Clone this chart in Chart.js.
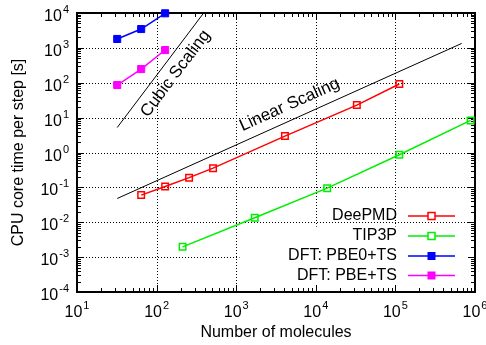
<!DOCTYPE html>
<html>
<head>
<meta charset="utf-8">
<script src="https://cdn.jsdelivr.net/npm/chart.js@4.4.0/dist/chart.umd.min.js"></script>
<style>
  html, body { margin: 0; padding: 0; background: #fff; }
  #chart { display: block; }
</style>
</head>
<body>
<canvas id="chart" width="486" height="345"></canvas>
<script>
// values (molecules, seconds per step)
const deepmdN = [64, 128, 256, 512, 4096, 32768, 112000];
const deepmdT = [0.060, 0.106, 0.19, 0.356, 2.96, 22.9, 92];
const tip3pN = [212, 1710, 13900, 112000, 880000];
const tip3pT = [0.00197, 0.0134, 0.095, 0.86, 8.3];
const pbe0N = [32, 64, 128];
const pbe0T = [1800, 3470, 9800];
const pbeN = [32, 64, 128];
const pbeT = [86, 247, 867];

// guide lines
const cubicN = [32, 390];
const cubicT = [5.2, 10000];
const linearN = [32, 680000];
const linearT = [0.048, 1340];

const xExp = [1, 2, 3, 4, 5, 6];
const yExp = [-4, -3, -2, -1, 0, 1, 2, 3, 4];

const seriesNames = ['DeePMD', 'TIP3P', 'DFT: PBE0+TS', 'DFT: PBE+TS'];
const seriesColors = ['#ff0000', '#00ee00', '#0000ff', '#ff00ff'];

const FONT = '"Liberation Sans", Arial, sans-serif';

function pts(xs, ys) {
  return xs.map((x, i) => ({ x: x, y: ys[i] }));
}

function series(i, xs, ys, filled) {
  return {
    label: seriesNames[i],
    data: pts(xs, ys),
    showLine: true,
    borderColor: seriesColors[i],
    backgroundColor: filled ? seriesColors[i] : '#ffffff',
    pointBorderColor: seriesColors[i],
    pointBackgroundColor: filled ? seriesColors[i] : 'rgba(0,0,0,0)',
    pointStyle: 'rect',
    pointRadius: filled ? 5 : 4.6,
    pointBorderWidth: filled ? 1 : 1.5,
    borderWidth: 1.5,
    clip: false
  };
}

function guide(xs, ys) {
  return {
    label: '',
    data: pts(xs, ys),
    showLine: true,
    borderColor: '#000',
    borderWidth: 1,
    pointRadius: 0,
    clip: false
  };
}

// draws the label "10^e" with a raised exponent
function powerLabel(ctx, x, y, e, align) {
  ctx.font = '16px ' + FONT;
  const baseW = ctx.measureText('10').width;
  ctx.font = '11px ' + FONT;
  const expW = ctx.measureText(String(e)).width;
  let left;
  if (align === 'right') left = x - baseW - expW - 1;
  else left = x - (baseW + expW + 1) / 2;
  ctx.textAlign = 'left';
  ctx.textBaseline = 'alphabetic';
  ctx.fillStyle = '#000';
  ctx.font = '16px ' + FONT;
  ctx.fillText('10', left, y);
  ctx.font = '11px ' + FONT;
  ctx.fillText(String(e), left + baseW + 1, y - 8);
}

const framePlugin = {
  id: 'frame',
  beforeDatasetsDraw(chart) {
    const ctx = chart.ctx;
    const a = chart.chartArea;
    const xs = chart.scales.x, ys = chart.scales.y;
    ctx.save();

    // dotted grid at decades
    ctx.strokeStyle = '#000';
    ctx.lineWidth = 1;
    ctx.setLineDash([1, 2]);
    xExp.forEach(e => {
      const px = Math.round(xs.getPixelForValue(Math.pow(10, e))) + 0.5;
      ctx.beginPath(); ctx.moveTo(px, a.top); ctx.lineTo(px, a.bottom); ctx.stroke();
    });
    yExp.forEach(e => {
      const py = Math.round(ys.getPixelForValue(Math.pow(10, e))) + 0.5;
      ctx.beginPath(); ctx.moveTo(a.left, py); ctx.lineTo(a.right, py); ctx.stroke();
    });
    ctx.setLineDash([]);

    // white box behind the key
    const kx = xs.getPixelForValue(1100);
    const ky = ys.getPixelForValue(0.0075);
    ctx.fillStyle = '#fff';
    ctx.fillRect(kx, ky, a.right - kx - 1, a.bottom - ky - 4);

    // inward tick marks on all four sides
    ctx.lineWidth = 1;
    for (let e = xExp[0]; e <= xExp[xExp.length - 1]; e++) {
      for (let m = 1; m <= 9; m++) {
        const v = m * Math.pow(10, e);
        if (v > Math.pow(10, xExp[xExp.length - 1])) break;
        const px = Math.round(xs.getPixelForValue(v)) + 0.5;
        const len = m === 1 ? 7 : 4;
        ctx.beginPath();
        ctx.moveTo(px, a.bottom); ctx.lineTo(px, a.bottom - len);
        ctx.moveTo(px, a.top); ctx.lineTo(px, a.top + len);
        ctx.stroke();
      }
    }
    for (let e = yExp[0]; e <= yExp[yExp.length - 1]; e++) {
      for (let m = 1; m <= 9; m++) {
        const v = m * Math.pow(10, e);
        if (v > Math.pow(10, yExp[yExp.length - 1])) break;
        const py = Math.round(ys.getPixelForValue(v)) + 0.5;
        const len = m === 1 ? 7 : 4;
        ctx.beginPath();
        ctx.moveTo(a.left, py); ctx.lineTo(a.left + len, py);
        ctx.moveTo(a.right, py); ctx.lineTo(a.right - len, py);
        ctx.stroke();
      }
    }

    // frame
    ctx.lineWidth = 2;
    ctx.strokeRect(a.left, a.top, a.right - a.left, a.bottom - a.top);

    // tick labels
    xExp.forEach(e => {
      powerLabel(ctx, xs.getPixelForValue(Math.pow(10, e)), a.bottom + 25, e, 'center');
    });
    yExp.forEach(e => {
      powerLabel(ctx, a.left - 8, ys.getPixelForValue(Math.pow(10, e)) + 8, e, 'right');
    });

    // axis titles
    ctx.fillStyle = '#000';
    ctx.font = '16px ' + FONT;
    ctx.textAlign = 'center';
    ctx.textBaseline = 'middle';
    ctx.fillText('Number of molecules', (a.left + a.right) / 2, 333);
    ctx.save();
    ctx.translate(19, (a.top + a.bottom) / 2);
    ctx.rotate(-Math.PI / 2);
    ctx.fillText('CPU core time per step [s]', 0, 0);
    ctx.restore();

    ctx.restore();
  },
  afterDraw(chart) {
    const ctx = chart.ctx;
    const xs = chart.scales.x, ys = chart.scales.y;
    ctx.save();
    ctx.fillStyle = '#000';
    ctx.font = '17px ' + FONT;
    ctx.textAlign = 'center';
    ctx.textBaseline = 'middle';

    // rotated guide labels, set a little off their lines
    const c0x = xs.getPixelForValue(cubicN[0]), c0y = ys.getPixelForValue(cubicT[0]);
    const c1x = xs.getPixelForValue(cubicN[1]), c1y = ys.getPixelForValue(cubicT[1]);
    ctx.save();
    ctx.translate(xs.getPixelForValue(173), ys.getPixelForValue(182));
    ctx.rotate(Math.atan2(c1y - c0y, c1x - c0x));
    ctx.fillText('Cubic Scaling', 0, 0);
    ctx.restore();

    const l0x = xs.getPixelForValue(linearN[0]), l0y = ys.getPixelForValue(linearT[0]);
    const l1x = xs.getPixelForValue(linearN[1]), l1y = ys.getPixelForValue(linearT[1]);
    ctx.save();
    ctx.translate(xs.getPixelForValue(4700), ys.getPixelForValue(23.4));
    ctx.rotate(Math.atan2(l1y - l0y, l1x - l0x));
    ctx.fillText('Linear Scaling', 0, 0);
    ctx.restore();

    // key
    ctx.font = '16px ' + FONT;
    ctx.textAlign = 'right';
    const rows = [216, 236, 256, 275.5];
    seriesNames.forEach((name, i) => {
      const y = rows[i];
      ctx.fillStyle = '#000';
      ctx.fillText(name, 397, y);
      ctx.strokeStyle = seriesColors[i];
      ctx.lineWidth = 1.5;
      ctx.beginPath(); ctx.moveTo(408, y); ctx.lineTo(455, y); ctx.stroke();
      if (i < 2) {
        ctx.fillStyle = '#fff';
        ctx.fillRect(428, y - 3.5, 7, 7);
        ctx.strokeRect(428, y - 3.5, 7, 7);
      } else {
        ctx.fillStyle = seriesColors[i];
        ctx.fillRect(427.5, y - 4, 8, 8);
      }
    });
    ctx.restore();
  }
};

new Chart(document.getElementById('chart'), {
  type: 'scatter',
  data: {
    datasets: [
      guide(cubicN, cubicT),
      guide(linearN, linearT),
      series(0, deepmdN, deepmdT, false),
      series(1, tip3pN, tip3pT, false),
      series(2, pbe0N, pbe0T, true),
      series(3, pbeN, pbeT, true)
    ]
  },
  options: {
    responsive: false,
    animation: false,
    layout: { padding: { left: 0, top: 13, right: 11, bottom: 0 } },
    plugins: { legend: { display: false }, tooltip: { enabled: false } },
    scales: {
      x: {
        type: 'logarithmic',
        min: Math.pow(10, xExp[0]),
        max: Math.pow(10, xExp[xExp.length - 1]),
        grid: { display: false },
        border: { display: false },
        ticks: { display: false },
        afterFit(s) { s.height = 53; }
      },
      y: {
        type: 'logarithmic',
        min: Math.pow(10, yExp[0]),
        max: Math.pow(10, yExp[yExp.length - 1]),
        grid: { display: false },
        border: { display: false },
        ticks: { display: false },
        afterFit(s) { s.width = 77; }
      }
    }
  },
  plugins: [framePlugin]
});
</script>
</body>
</html>
